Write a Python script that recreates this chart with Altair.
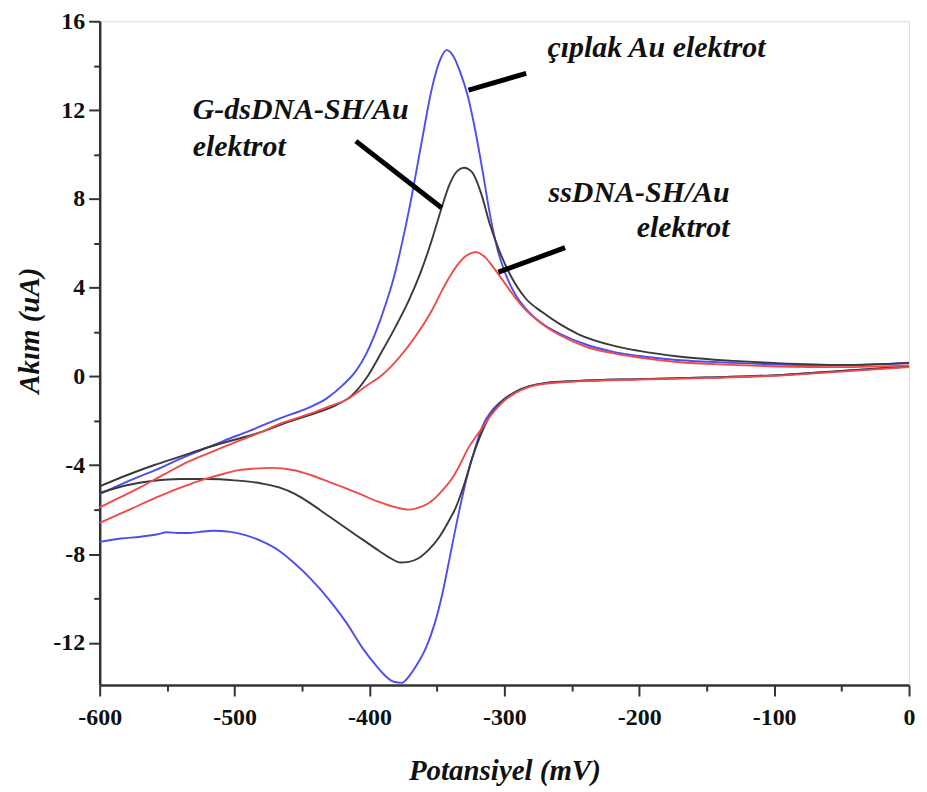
import altair as alt
import pandas as pd

# ---- data (potential mV, current uA); each loop 0 -> -600 -> 0
blue_x = [0, -50, -100, -150, -200, -245, -270, -282, -292, -302, -310, -316, -322, -328, -334, -340, -346, -352, -358, -364, -370, -376, -382, -388, -394, -405, -417, -430, -443, -455, -467, -480, -492, -503, -516, -526, -534, -542, -550, -558, -570, -584, -600,
          -600, -580, -558, -540, -526, -508, -489, -467, -445, -432, -420, -410, -403, -395, -388, -382, -377, -371, -366, -360, -354, -348, -343, -338, -333, -327, -321, -316, -311, -305, -299, -292, -284, -270, -258, -240, -220, -200, -172, -130, -98, -50, 0]
blue_y = [0.45, 0.25, 0.05, -0.05, -0.12, -0.2, -0.3, -0.45, -0.7, -1.1, -1.6, -2.2, -3.3, -4.6, -6.2, -8.0, -9.8, -11.2, -12.2, -12.9, -13.45, -13.8, -13.75, -13.5, -13.1, -12.25, -11.1, -10.05, -9.15, -8.45, -7.85, -7.42, -7.15, -7.0, -6.95, -7.0, -7.05, -7.05, -7.02, -7.12, -7.22, -7.3, -7.45,
          -5.3, -4.75, -4.2, -3.7, -3.35, -2.9, -2.45, -1.9, -1.4, -1.0, -0.4, 0.25, 0.95, 2.05, 3.25, 4.45, 5.7, 7.4, 9.0, 11.0, 12.9, 14.2, 14.7, 14.45, 13.75, 12.6, 10.9, 9.2, 7.4, 5.7, 4.6, 3.7, 3.05, 2.3, 1.9, 1.45, 1.12, 0.92, 0.74, 0.61, 0.54, 0.5, 0.62]

black_x = [0, -50, -100, -150, -200, -245, -270, -282, -292, -302, -310, -318, -324, -330, -336, -342, -349, -356, -364, -371, -377, -384, -393, -405, -417, -430, -443, -455, -467, -480, -500, -520, -540, -560, -580, -600,
           -600, -580, -560, -540, -520, -500, -480, -460, -440, -425, -413, -402, -391, -381, -371, -362, -354, -347, -341, -335, -330, -324, -317, -311, -304, -295, -284, -272, -260, -245, -220, -200, -171, -130, -98, -50, 0]
black_y = [0.45, 0.25, 0.05, -0.05, -0.12, -0.2, -0.3, -0.45, -0.7, -1.15, -1.7, -2.7, -3.7, -4.9, -5.9, -6.6, -7.3, -7.8, -8.2, -8.35, -8.38, -8.2, -7.85, -7.35, -6.85, -6.3, -5.75, -5.3, -5.0, -4.82, -4.68, -4.62, -4.62, -4.7, -4.9, -5.25,
           -4.95, -4.45, -4.0, -3.6, -3.2, -2.85, -2.5, -2.05, -1.65, -1.3, -0.85, -0.05, 1.1, 2.2, 3.4, 4.7, 6.1, 7.5, 8.6, 9.25, 9.4, 9.2, 8.2, 6.9, 5.7, 4.5, 3.5, 2.9, 2.4, 1.9, 1.4, 1.15, 0.9, 0.7, 0.6, 0.52, 0.6]

red_x = [0, -50, -100, -150, -200, -245, -270, -282, -292, -302, -310, -318, -327, -334, -340, -344, -350, -356, -363, -371, -380, -393, -405, -417, -430, -443, -458, -472, -485, -497, -512, -526, -542, -558, -578, -600,
         -600, -585, -570, -552, -533, -515, -497, -480, -467, -445, -430, -417, -403, -390, -378, -366, -354, -346, -341, -335, -329, -321, -314, -308, -302, -295, -288, -275, -260, -240, -220, -200, -172, -130, -98, -50, 0]
red_y = [0.42, 0.22, 0.03, -0.07, -0.14, -0.22, -0.33, -0.48, -0.75, -1.2, -1.75, -2.45, -3.25, -4.1, -4.7, -5.0, -5.4, -5.7, -5.9, -6.0, -5.9, -5.65, -5.35, -5.05, -4.75, -4.45, -4.2, -4.12, -4.15, -4.22, -4.45, -4.7, -5.05, -5.45, -6.0, -6.6,
         -5.9, -5.45, -5.0, -4.4, -3.8, -3.35, -2.9, -2.5, -2.15, -1.7, -1.35, -1.05, -0.45, 0.1, 0.85, 1.8, 2.95, 3.9, 4.45, 5.0, 5.4, 5.6, 5.35, 4.9, 4.4, 3.8, 3.25, 2.5, 1.9, 1.35, 1.05, 0.85, 0.65, 0.52, 0.45, 0.42, 0.5]

series_names = ["çıplak Au elektrot", "G-dsDNA-SH/Au elektrot", "ssDNA-SH/Au elektrot"]
series_colors = ["#4d4df0", "#3a3a3a", "#f04a4a"]

x_ticks = [-600, -500, -400, -300, -200, -100, 0]
x_minor = [-550, -450, -350, -250, -150, -50]
y_ticks = [-12, -8, -4, 0, 4, 8, 12, 16]
y_minor = [-10, -6, -2, 2, 6, 10, 14]

# annotation texts
lab_left_text = ["çıplak Au elektrot", "G-dsDNA-SH/Au", "elektrot"]
lab_left_x = [-268, -531, -531]
lab_left_y = [14.4, 11.6, 9.95]
lab_right_text = ["ssDNA-SH/Au", "elektrot"]
lab_right_x = [-133, -133]
lab_right_y = [7.84, 6.27]

# pointer lines
ptr_x = [-326.6, -410.1, -304.4]
ptr_y = [12.9, 10.6, 4.7]
ptr_x2 = [-283.8, -346.6, -255.0]
ptr_y2 = [13.65, 7.6, 5.8]

rows = []
for name, xs, ys in zip(series_names, [blue_x, black_x, red_x], [blue_y, black_y, red_y]):
    turn = xs.index(-600)
    for i, (xv, yv) in enumerate(zip(xs, ys)):
        branch = "lower" if i <= turn else "upper"
        rows.append({"series": name, "key": name + "|" + branch, "x": xv, "y": yv})
df = pd.DataFrame(rows)

XDOM = [-600, 0]
YDOM = [-13.9, 16]
FONT = "Liberation Serif"
MINUS_EXPR = "datum.value < 0 ? '-' + abs(datum.value) : '' + datum.value"

xscale = alt.Scale(domain=XDOM, nice=False, zero=False)
yscale = alt.Scale(domain=YDOM, nice=False, zero=False)

lines = alt.Chart(df).mark_line(strokeWidth=1.9, interpolate="monotone").encode(
    x=alt.X("x:Q", scale=xscale, axis=alt.Axis(
        values=x_ticks, title="Potansiyel (mV)", tickSize=11, tickWidth=2, labelExpr=MINUS_EXPR,
        labelFlush=False, labelOverlap=False,
        labelFontSize=24, labelFont=FONT, labelFontWeight="bold", labelPadding=10,
        titleFont=FONT, titleFontSize=29, titleFontStyle="italic", titleFontWeight="bold",
        titleY=86, titleBaseline="middle",
        domainWidth=2.5, domainColor="#333", tickColor="#333", labelColor="#111", titleColor="#111",
        grid=False, orient="bottom")),
    y=alt.Y("y:Q", scale=yscale, axis=alt.Axis(
        values=y_ticks, title="Akım (uA)", tickSize=11, tickWidth=2, labelExpr=MINUS_EXPR,
        labelFlush=False, labelOverlap=False,
        labelFontSize=24, labelFont=FONT, labelFontWeight="bold", labelPadding=4,
        titleFont=FONT, titleFontSize=29, titleFontStyle="italic", titleFontWeight="bold",
        titleX=-70, titleY=310, titleBaseline="middle",
        domainWidth=2.5, domainColor="#333", tickColor="#333", labelColor="#111", titleColor="#111",
        grid=False, orient="left")),
    color=alt.Color("series:N", scale=alt.Scale(domain=series_names, range=series_colors), legend=None),
    detail="key:N",
)

minor_df = pd.DataFrame({"x": [XDOM[0]], "y": [YDOM[0]]})
minor = alt.Chart(minor_df).mark_point(opacity=0).encode(
    x=alt.X("x:Q", scale=xscale, axis=alt.Axis(
        values=x_minor, labels=False, title=None, tickSize=6, tickWidth=2,
        domain=False, tickColor="#333", grid=False, orient="bottom")),
    y=alt.Y("y:Q", scale=yscale, axis=alt.Axis(
        values=y_minor, labels=False, title=None, tickSize=6, tickWidth=2,
        domain=False, tickColor="#333", grid=False, orient="left")),
)

ptr_df = pd.DataFrame({"x": ptr_x, "y": ptr_y, "x2": ptr_x2, "y2": ptr_y2})
pointers = alt.Chart(ptr_df).mark_rule(strokeWidth=5, color="black").encode(
    x=alt.X("x:Q", scale=xscale, axis=None),
    y=alt.Y("y:Q", scale=yscale, axis=None),
    x2="x2:Q", y2="y2:Q",
)

left_df = pd.DataFrame({"x": lab_left_x, "y": lab_left_y, "t": lab_left_text})
right_df = pd.DataFrame({"x": lab_right_x, "y": lab_right_y, "t": lab_right_text})
text_kw = dict(font=FONT, fontSize=30, fontStyle="italic", fontWeight="bold", color="#111", baseline="alphabetic")
left_text = alt.Chart(left_df).mark_text(align="left", **text_kw).encode(
    x=alt.X("x:Q", scale=xscale, axis=None), y=alt.Y("y:Q", scale=yscale, axis=None), text="t:N")
right_text = alt.Chart(right_df).mark_text(align="right", **text_kw).encode(
    x=alt.X("x:Q", scale=xscale, axis=None), y=alt.Y("y:Q", scale=yscale, axis=None), text="t:N")

chart = alt.layer(lines, minor, pointers, left_text, right_text).resolve_axis(
    x="independent", y="independent"
).properties(
    width=812, height=666,
    autosize=alt.AutoSizeParams(type="none"),
    padding={"left": 92, "top": 12, "right": 10, "bottom": 100},
).configure_view(stroke=None).configure(background="white")

chart.save("out.html", embed_options={"renderer": "svg", "actions": False})
